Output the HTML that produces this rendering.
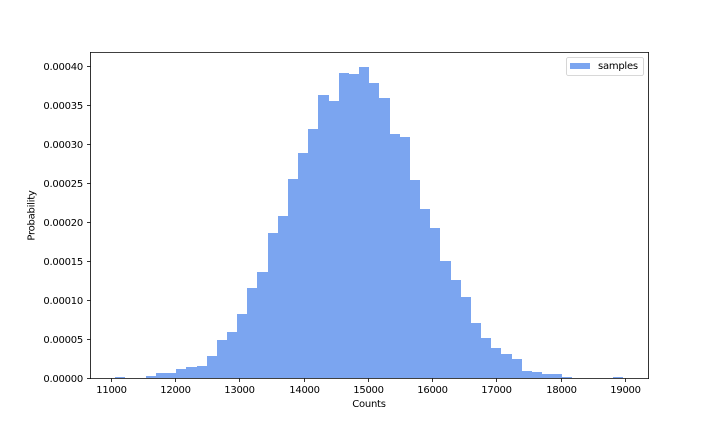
<!DOCTYPE html>
<html>
<head>
<meta charset="utf-8">
<style>
html,body{margin:0;padding:0;background:#fff;}
svg{display:block;}
text{font-family:"DejaVu Sans","Liberation Sans",sans-serif;font-size:10px;fill:#000;letter-spacing:-0.25px;}
</style>
</head>
<body>
<svg id="chart" width="720" height="432" viewBox="0 0 720 432" xmlns="http://www.w3.org/2000/svg">
  <g id="bars"></g>
  <g id="xticks"></g>
  <g id="yticks"></g>
  <g stroke="#000" stroke-width="0.8" fill="none">
    <line x1="90.5" y1="52.1" x2="90.5" y2="378.9"/>
    <line x1="648.5" y1="52.1" x2="648.5" y2="378.9"/>
    <line x1="90.1" y1="52.5" x2="648.9" y2="52.5"/>
    <line x1="90.1" y1="378.5" x2="648.9" y2="378.5"/>
  </g>
  <text x="369" y="407" text-anchor="middle">Counts</text>
  <text transform="translate(34.5,215.5) rotate(-90)" text-anchor="middle">Probability</text>
  <g>
    <rect x="566.5" y="57.5" width="77" height="18" rx="2" ry="2" fill="#fff" stroke="#ccc" stroke-width="0.8"/>
    <rect x="570" y="63" width="20" height="6" fill="#7BA5F0" shape-rendering="crispEdges"/>
    <text x="598" y="69">samples</text>
  </g>
</svg>
<script>
const binStart = 11058;
const binWidth = 158.2;
const densities = [
  0.0000013, 0, 0, 0.0000026, 0.0000064, 0.0000064, 0.0000115, 0.0000141, 0.0000154, 0.0000282,
  0.0000488, 0.000059, 0.0000821, 0.0001155, 0.000136, 0.000186, 0.000208, 0.000255, 0.000289, 0.00032,
  0.000363, 0.000355, 0.000391, 0.00039, 0.000399, 0.000379, 0.000359, 0.000313, 0.000309, 0.000254,
  0.000217, 0.000192, 0.00015, 0.000126, 0.000104, 0.0000706, 0.0000513, 0.0000385, 0.0000308, 0.0000244,
  0.000009, 0.0000077, 0.0000051, 0.0000051, 0.0000013, 0, 0, 0, 0, 0.0000013
];
const xTickValues = [11000, 12000, 13000, 14000, 15000, 16000, 17000, 18000, 19000];
const yTickValues = [0, 0.00005, 0.0001, 0.00015, 0.0002, 0.00025, 0.0003, 0.00035, 0.0004];

const NS = 'http://www.w3.org/2000/svg';
function xScale(v) { return 111.5 + (v - 11000) * 0.06423; }
function yScale(v) { return 378 - v * 779250; }

const barsGroup = document.getElementById('bars');
densities.forEach(function (d, i) {
  if (d <= 0) return;
  const x0 = Math.round(xScale(binStart + i * binWidth));
  const x1 = Math.round(xScale(binStart + (i + 1) * binWidth));
  const top = Math.round(yScale(d));
  const r = document.createElementNS(NS, 'rect');
  
  
  r.setAttribute('x', x0);
  r.setAttribute('y', top);
  r.setAttribute('width', x1 - x0);
  r.setAttribute('height', 378 - top);
  r.setAttribute('fill', '#7BA5F0');
  r.setAttribute('shape-rendering', 'crispEdges');
  barsGroup.appendChild(r);
});

const xGroup = document.getElementById('xticks');
xTickValues.forEach(function (v) {
  const x = Math.floor(xScale(v)) + 0.5;
  const t = document.createElementNS(NS, 'line');
  
  
  t.setAttribute('x1', x);
  t.setAttribute('x2', x);
  t.setAttribute('y1', 378.5);
  t.setAttribute('y2', 382);
  t.setAttribute('stroke', '#000');
  t.setAttribute('stroke-width', 0.8);
  xGroup.appendChild(t);
  const l = document.createElementNS(NS, 'text');
  
  
  l.setAttribute('x', x);
  l.setAttribute('y', 393);
  l.setAttribute('text-anchor', 'middle');
  l.textContent = String(v);
  xGroup.appendChild(l);
});

const yGroup = document.getElementById('yticks');
yTickValues.forEach(function (v) {
  const y = Math.floor(yScale(v)) + 0.5;
  const t = document.createElementNS(NS, 'line');
  
  
  t.setAttribute('x1', 87);
  t.setAttribute('x2', 90.5);
  t.setAttribute('y1', y);
  t.setAttribute('y2', y);
  t.setAttribute('stroke', '#000');
  t.setAttribute('stroke-width', 0.8);
  yGroup.appendChild(t);
  const l = document.createElementNS(NS, 'text');
  
  
  l.setAttribute('x', 83);
  l.setAttribute('y', y + 3.5);
  l.setAttribute('text-anchor', 'end');
  l.textContent = v.toFixed(5);
  yGroup.appendChild(l);
});
</script>
</body>
</html>
